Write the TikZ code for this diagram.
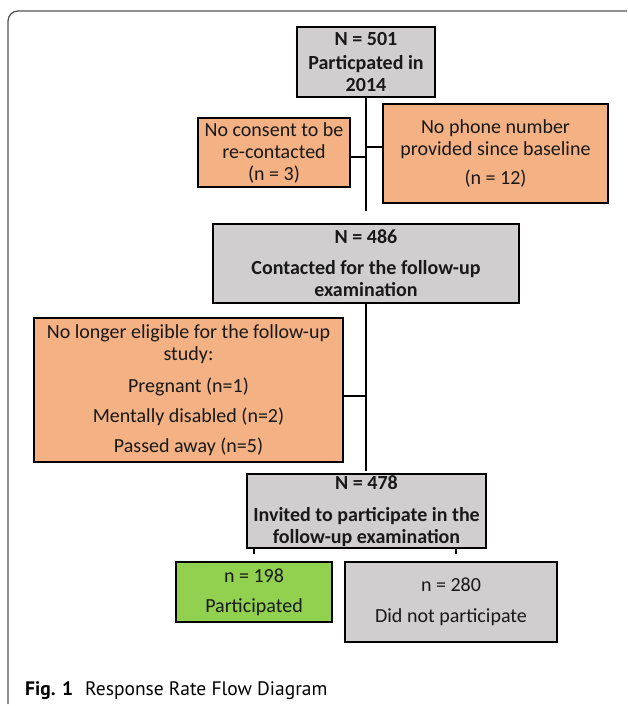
\documentclass[tikz,border=0pt]{standalone}
\usepackage{fontspec}
\setmainfont{Carlito}
\newfontfamily\captionfont{PT Sans}
\usetikzlibrary{calc}
\definecolor{boxGray}{HTML}{D0CECE}
\definecolor{boxOrange}{HTML}{F4B183}
\definecolor{boxGreen}{HTML}{92D050}
\definecolor{frameGray}{HTML}{555555}

\begin{document}
\begin{tikzpicture}[x=1pt, y=-1pt,
    every node/.style={font=\fontsize{20}{22}\selectfont, align=center, inner sep=0pt, text=black!90},
    flowbox/.style 2 args={draw=black, line width=1.5pt, minimum width=#1, minimum height=#2},
    conn/.style={line width=2pt},
    thinconn/.style={line width=1.4pt}]
  \useasboundingbox (0,0) rectangle (627,706);
  % frame of the figure
  \draw[frameGray, line width=1.3pt, rounded corners=10pt] (627,11) -- (8,11) -- (8,704);

  % main flow
  \node[flowbox={138pt}{70pt}, fill=boxGray] (n501) at (366,62)
    {\textbf{N = 501}\\[2pt] \textbf{Particpated in}\\ \textbf{2014}};
  \node[flowbox={306pt}{79pt}, fill=boxGray] (n486) at (366,263.5)
    {\textbf{N = 486}\\[9pt] \textbf{Contacted for the follow-up}\\ \textbf{examination}};
  \node[flowbox={239pt}{74pt}, fill=boxGray] (n478) at (366.5,511)
    {\textbf{N = 478}\\[10pt] \textbf{Invited to participate in the}\\ \textbf{follow-up examination}};

  % exclusions
  \node[flowbox={152pt}{69pt}, fill=boxOrange] (noConsent) at (274,152.5)
    {No consent to be\\ re-contacted\\ (n = 3)};
  \node[flowbox={225pt}{99pt}, fill=boxOrange] (noPhone) at (495.5,153.5)
    {No phone number\\ provided since baseline\\[7pt] (n = 12)};
  \node[flowbox={309pt}{144pt}, fill=boxOrange] (noEligible) at (188.5,390)
    {No longer eligible for the follow-up\\ study:\\[10pt] Pregnant (n=1)\\[8pt]
     Mentally disabled (n=2)\\[8pt] Passed away (n=5)};

  % outcome
  \node[flowbox={156pt}{60pt}, fill=boxGreen] (part) at (254,592)
    {n = 198\\[8pt] Participated};
  \node[flowbox={212pt}{80pt}, fill=boxGray] (noPart) at (451,602)
    {n = 280\\[9pt] Did not participate};

  % connectors
  \coordinate (gapA) at ($(n501.south)+(0,113)$);
  \draw[conn] (n501.south) -- ($(n501.south)+(0,60)$);
  \draw[thinconn] ($(n501.south)+(0,60)$) -- (gapA);
  \draw[conn] ([yshift=-4pt]noConsent.east) -- ([yshift=-4pt]noConsent.east -| n501.south);
  \draw[conn] ([yshift=7pt]noPhone.west) -- ([yshift=7pt]noPhone.west -| n501.south);

  \coordinate (gapB) at ($(n486.south)+(0,167)$);
  \draw[conn] (n486.south) -- ($(n486.south)+(0,93)$);
  \draw[thinconn] ($(n486.south)+(0,93)$) -- (gapB);
  \draw[conn] ([yshift=-6pt]noEligible.east) -- ([yshift=-6pt]noEligible.east -| n486.south);

  \draw[thinconn] (n478.south -| part.north) -- ([yshift=7pt]part.north);
  \draw[thinconn] ([xshift=5pt]n478.south -| noPart.north) -- ([xshift=5pt, yshift=7pt]noPart.north);

  % caption
  \node[anchor=base west, font=\captionfont\fontsize{19.5}{22}\selectfont, text=black]
    (caption) at (25,695) {\textbf{Fig. 1}\hspace{12pt}Response Rate Flow Diagram};
\end{tikzpicture}
\end{document}
